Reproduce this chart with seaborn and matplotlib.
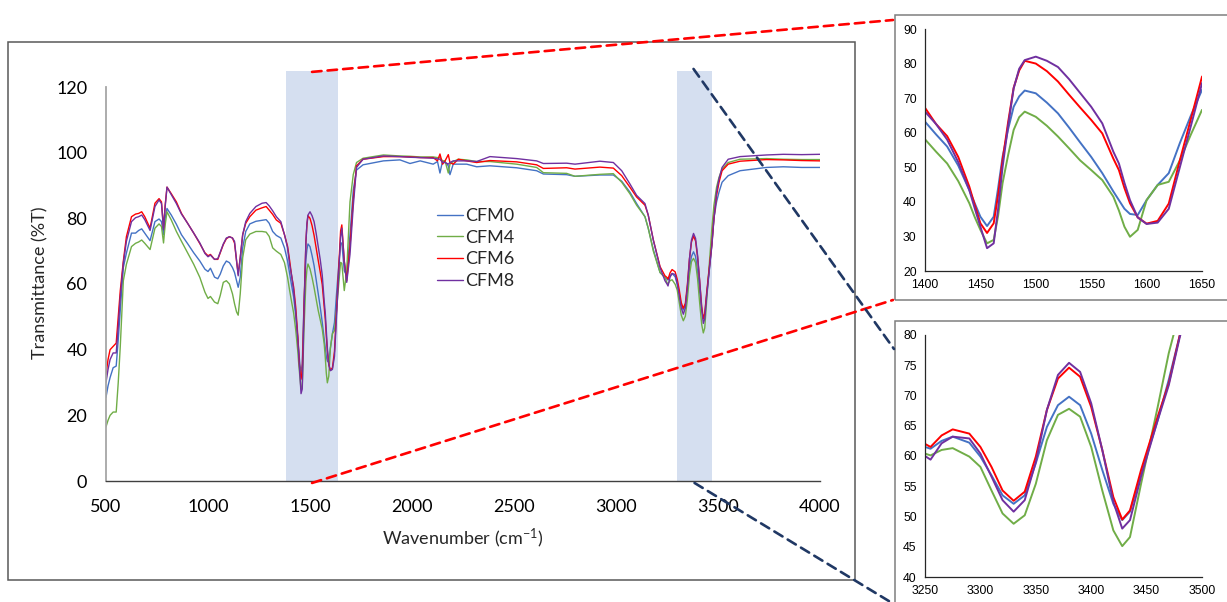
import numpy as np
import pandas as pd
import seaborn as sns
import matplotlib
matplotlib.use("Agg")
import matplotlib.pyplot as plt
from matplotlib.patches import Rectangle, ConnectionPatch

# ---------------- data ----------------
wavenumber = [
    500, 510, 520, 535, 550, 560, 570, 585, 600, 625, 645, 660, 675, 690, 716, 740, 760, 772, 782, 790,
    799, 820, 845, 870, 900, 930, 960, 985, 1000, 1012, 1032, 1048, 1060, 1075, 1090, 1105, 1120, 1130,
    1140, 1148, 1158, 1170, 1185, 1205, 1235, 1265, 1285, 1300, 1317, 1335, 1357, 1375, 1390,
    1400, 1410, 1420, 1430, 1440, 1445, 1450, 1456, 1462, 1466, 1470, 1475, 1480, 1485, 1490, 1500,
    1510, 1520, 1530, 1540, 1550, 1560, 1570, 1575, 1580, 1585, 1592, 1600, 1610, 1620, 1630, 1640,
    1650, 1656, 1668, 1680, 1696, 1712, 1728, 1760, 1860, 1941, 1990, 2040, 2104, 2125, 2137, 2150,
    2162, 2178, 2186, 2202, 2227, 2268, 2317, 2382, 2513, 2611, 2644, 2758, 2799, 2921, 2987, 3028,
    3068, 3101, 3142, 3158, 3183, 3216, 3240,
    3250, 3255, 3265, 3275, 3290, 3300, 3310, 3320, 3330, 3340, 3350, 3360, 3370, 3380, 3390, 3400,
    3410, 3420, 3428, 3435, 3445, 3460, 3470, 3480, 3493, 3505, 3520, 3550, 3608, 3738, 3820, 3910, 4000,
]

cfm0 = [  # blue
    25.5, 29, 31.5, 34.5, 35, 43, 52, 65, 69.4, 75.5, 75.5, 76.3, 76.8, 75.5, 73.2, 79, 79.8, 79, 75, 80,
    83, 81, 78.2, 75, 72.3, 69.5, 67, 64.5, 63.8, 64.8, 62.1, 61.6, 63, 65.5, 67, 66.5, 65, 63.5,
    61, 59, 62, 71, 76, 78.3, 79.1, 79.4, 79.6, 78.5, 76, 74.8, 74, 71, 67,
    63.2, 59.5, 56, 50.5, 43.4, 39.5, 35.7, 33, 35.7, 44, 53, 61, 67.5, 70.5, 72.2, 71.4,
    68.7, 65.6, 61.5, 57.2, 53, 48.3, 43, 40.5, 38, 36.5, 36.2, 40.5, 44.9, 48.3, 57, 65,
    72.4, 72.5, 64, 62.5, 75, 88.6, 94.7, 96.3, 97.5, 97.8, 96.7, 97.5, 96.5, 97.3, 93.8, 97.5,
    97.2, 96, 93.3, 96.5, 96.5, 96.5, 95.7, 96, 95.4, 94.5, 93.5, 93.3, 92.8, 93.2, 93.2, 91.3,
    88, 84.5, 80.5, 77, 70.5, 63.5, 62,
    61.5, 61.2, 62.5, 63.2, 62.2, 59.9, 56.8, 53.5, 52.1, 53.5, 58.8, 64.8, 68.4, 69.8, 68.4, 63.7,
    57.7, 52.1, 49.4, 50.8, 57.1, 65.9, 72.6, 80, 85, 88, 91, 93, 94.5, 95.5, 95.7, 95.5, 95.5,
]

cfm4 = [  # green
    16.5, 18.5, 20, 21, 21, 30, 41, 61, 66, 71.4, 72.4, 72.8, 73.4, 72.4, 70.5, 77, 78.3, 77.5, 72.5, 78,
    82, 79.5, 76, 73, 69.5, 66, 62, 57.5, 55.6, 56.2, 54.5, 54, 56.5, 60.5, 61, 60, 57, 54,
    51.5, 50.5, 57, 68, 73.5, 75.2, 76, 76, 75.8, 74.5, 71, 70, 69, 66.5, 62,
    58.1, 54.5, 51.1, 46, 39.6, 35.5, 31.9, 28, 29, 36, 45.4, 53.5, 60.8, 64.5, 66.1, 64.6,
    62, 58.9, 55.5, 52, 49.2, 46.3, 41.5, 37.5, 32.8, 29.9, 31.9, 40.5, 44.9, 45.8, 52, 59.5,
    66.6, 66.3, 58, 64, 85, 93.3, 97, 98.3, 99.3, 99, 98.9, 98.7, 98.7, 98.5, 98.5, 97.5,
    97.5, 93.8, 96.5, 97.3, 98, 97.8, 97.3, 97.3, 96.5, 95.5, 93.9, 93.7, 92.8, 93.4, 93.6, 91,
    87.5, 84, 80.5, 77, 70, 63.5, 62,
    60.4, 60.1, 61, 61.3, 59.9, 58.2, 54.3, 50.5, 48.8, 50.2, 55.4, 62.6, 66.8, 67.8, 66.5, 61.5,
    54.3, 47.7, 45.1, 46.6, 55.4, 68.1, 77, 84, 89.5, 92.5, 95, 97, 98, 98.2, 98, 97.9, 97.9,
]

cfm6 = [  # red
    32.5, 37, 40, 41, 42, 50, 58, 67, 74.4, 80.5, 81.3, 81.5, 82, 80.5, 77, 84.6, 86, 85, 77, 84,
    89.5, 87.5, 85, 81.5, 78.5, 75.5, 72.3, 69.5, 68.6, 69, 67.5, 67.5, 69.5, 72, 73.8, 74.4, 74, 72.5,
    67, 63, 68, 75, 78.5, 80.5, 82.5, 83.2, 83.6, 82.5, 81.2, 79.5, 78.5, 75, 71.5,
    67.2, 62.5, 59, 53, 44.4, 39, 33.8, 31, 33.8, 42, 52, 63, 73, 78, 80.8, 80,
    77.8, 74.8, 71, 67.3, 63.7, 59.8, 52.5, 49.2, 44, 39.6, 35.5, 33.7, 34.5, 39.5, 52, 64,
    76.2, 78, 67, 61, 71.5, 85.6, 96, 98, 98.8, 98.8, 98.7, 98.5, 98.5, 97.5, 99.6, 96.5,
    97.5, 99.4, 97, 96.5, 98, 97.5, 97, 97.6, 97.2, 96.3, 95.2, 95.4, 95, 95.6, 95.3, 93,
    89.5, 86.5, 84, 81, 73.4, 65.3, 62.5,
    62, 61.5, 63.4, 64.4, 63.7, 61.5, 58.2, 54.3, 52.6, 54.1, 59.9, 67.6, 72.8, 74.6, 73.1, 68.1,
    61, 53.2, 49.5, 51, 57.7, 66.5, 72, 80, 87, 91, 94.5, 96.5, 97.4, 97.9, 97.8, 97.6, 97.5,
]

cfm8 = [  # purple
    30, 34, 37, 39, 39, 47, 56, 66.3, 73, 79, 80.2, 80.5, 81, 79.6, 76.3, 83.6, 85.6, 84.5, 76.5, 83.5,
    89.5, 87.2, 84.5, 81.3, 78.5, 75.5, 72.5, 69.3, 68.3, 68.8, 67.5, 67.7, 69.7, 72.2, 74, 74.4, 74, 73,
    67, 62.5, 68, 75, 79, 81.5, 83.6, 84.6, 84.8, 83.8, 82.3, 80.5, 79, 75, 71,
    66.1, 62.5, 58, 51.5, 43.4, 38, 32.8, 26.6, 28, 38, 50, 62, 72.8, 78.5, 81, 82,
    80.8, 79, 75.5, 71.5, 67.5, 62.7, 54.5, 51.1, 45.5, 40.5, 35.5, 33.6, 34, 38, 50, 62,
    74.3, 77, 67, 60.5, 69, 83.6, 95.5, 98, 99, 98.8, 98.6, 98.5, 98.3, 98.1, 98, 97,
    97, 96.5, 97, 97.5, 97.5, 97.5, 97.3, 98.8, 98.2, 97.5, 96.7, 96.8, 96.5, 97.4, 97, 94.5,
    90.5, 87, 84.5, 81, 73.4, 65, 61,
    60, 59.4, 62.1, 63.2, 62.9, 60.4, 56.6, 52.7, 50.8, 52.7, 59, 67.6, 73.4, 75.4, 73.9, 68.7,
    61, 52.4, 48, 49.4, 56.6, 65.9, 71.7, 79.7, 88, 92, 95.5, 98, 98.8, 99.3, 99.5, 99.4, 99.5,
]

series_names = ["CFM0", "CFM4", "CFM6", "CFM8"]
series_colors = ["#4472C4", "#70AD47", "#FF0000", "#7030A0"]
main_yticks = [0, 20, 40, 60, 80, 100, 120]
main_xticks = [500, 1000, 1500, 2000, 2500, 3000, 3500, 4000]
band1 = (1380, 1635)
band2 = (3300, 3470)
inset1_xticks = [1400, 1450, 1500, 1550, 1600, 1650]
inset1_yticks = [20, 30, 40, 50, 60, 70, 80, 90]
inset2_xticks = [3250, 3300, 3350, 3400, 3450, 3500]
inset2_yticks = [40, 45, 50, 55, 60, 65, 70, 75, 80]

df = pd.DataFrame({"wavenumber": wavenumber, "CFM0": cfm0, "CFM4": cfm4,
                   "CFM6": cfm6, "CFM8": cfm8})
long = df.melt(id_vars="wavenumber", var_name="sample", value_name="T")

# ---------------- style ----------------
sns.set_style("white")
plt.rcParams["font.family"] = ["Lato", "DejaVu Sans"]
plt.rcParams["mathtext.fontset"] = "custom"
plt.rcParams["mathtext.rm"] = "Lato"
plt.rcParams["mathtext.default"] = "regular"

W, H = 1227, 602
fig = plt.figure(figsize=(W / 100, H / 100), dpi=100)


def fx(px):
    return px / W


def fy(py):
    return 1 - py / H


def add_axes_px(left, top, right, bottom):
    return fig.add_axes([fx(left), fy(bottom), fx(right - left), (bottom - top) / H])


palette = dict(zip(series_names, series_colors))

# frames (boxes around the charts)
fig.add_artist(Rectangle((fx(8), fy(580)), fx(855 - 8), (580 - 42) / H, transform=fig.transFigure,
                         fill=False, edgecolor="#595959", lw=1.1, zorder=0))
fig.add_artist(Rectangle((fx(895), fy(300)), fx(1240 - 895), (300 - 15) / H, transform=fig.transFigure,
                         fill=False, edgecolor="#7f7f7f", lw=1.1, zorder=0))
fig.add_artist(Rectangle((fx(895), fy(640)), fx(1240 - 895), (640 - 321) / H, transform=fig.transFigure,
                         fill=False, edgecolor="#7f7f7f", lw=1.1, zorder=0))

# ---------------- main chart ----------------
ax = add_axes_px(106, 87, 820, 481)
ax.patch.set_alpha(0)
for lo, hi in (band1, band2):
    ax.axvspan(lo, hi, ymin=0, ymax=125 / 120, color="#d5dff0", lw=0, zorder=0, clip_on=False)
sns.lineplot(data=long, x="wavenumber", y="T", hue="sample", palette=palette,
             hue_order=series_names, ax=ax, legend=False, lw=1.0, zorder=2)
ax.set_xlim(500, 4000)
ax.set_ylim(0, 120)
ax.set_xticks(main_xticks)
ax.set_yticks(main_yticks)
ax.tick_params(axis="both", length=0, labelsize=13, colors="#000000")
ax.tick_params(axis="y", pad=13.5)
ax.tick_params(axis="x", pad=13)
for s in ("top", "right"):
    ax.spines[s].set_visible(False)
ax.spines["left"].set_color("#a6a6a6")
ax.spines["left"].set_linewidth(1.3)
ax.spines["bottom"].set_color("#404040")
ax.spines["bottom"].set_linewidth(1.0)
ax.set_xlabel("Wavenumber (cm$^{-1}$)", fontsize=13)
ax.set_ylabel("Transmittance (%T)", fontsize=13)
ax.xaxis.set_label_coords(0.5, -0.115)
ax.yaxis.set_label_coords(-0.081, 0.503)
ax.grid(False)

handles = ax.get_lines()[:4]
ax.legend(handles, series_names, loc="center left", bbox_to_anchor=((437 - 106) / 714, (481 - 248.5) / 394),
          frameon=False, fontsize=13, handlelength=1.45, handletextpad=0.1, borderpad=0,
          labelspacing=0.32, borderaxespad=0)

# ---------------- insets ----------------
def style_inset(a, xticks, yticks, xlim, ylim):
    a.set_xlim(*xlim)
    a.set_ylim(*ylim)
    a.set_xticks(xticks)
    a.set_yticks(yticks)
    a.set_xlabel("")
    a.set_ylabel("")
    for s in ("top", "right"):
        a.spines[s].set_visible(False)
    for s in ("left", "bottom"):
        a.spines[s].set_color("#262626")
        a.spines[s].set_linewidth(0.9)
    a.tick_params(axis="both", length=0, labelsize=8.8, colors="#000000")
    a.tick_params(axis="y", pad=6)
    a.tick_params(axis="x", pad=5.5)
    for lab in a.get_xticklabels() + a.get_yticklabels():
        lab.set_family(["Liberation Sans", "DejaVu Sans"])
    a.grid(False)


ax1 = add_axes_px(925, 29, 1202, 271)
sns.lineplot(data=long, x="wavenumber", y="T", hue="sample", palette=palette,
             hue_order=series_names, ax=ax1, legend=False, lw=1.4)
style_inset(ax1, inset1_xticks, inset1_yticks, (1400, 1650), (20, 90))

ax2 = add_axes_px(925, 335, 1202, 577)
sns.lineplot(data=long, x="wavenumber", y="T", hue="sample", palette=palette,
             hue_order=series_names, ax=ax2, legend=False, lw=1.4)
style_inset(ax2, inset2_xticks, inset2_yticks, (3250, 3500), (40, 80))

# ---------------- connector lines ----------------
def connector(xyA, xyB_px, color):
    cp = ConnectionPatch(xyA=xyA, coordsA=ax.transData,
                         xyB=(fx(xyB_px[0]), fy(xyB_px[1])), coordsB=fig.transFigure,
                         color=color, lw=1.9, linestyle=(0, (3.6, 2.3)), zorder=6)
    cp.set_annotation_clip(False)
    cp.set_clip_on(False)
    fig.add_artist(cp)


connector((1510, 124.6), (893, 20), "#FF0000")
connector((1510, -0.6), (893, 300), "#FF0000")
connector((3380, 125.5), (894, 349), "#203864")
connector((3385, -0.6), (925, 623), "#203864")

fig.savefig("out.png", dpi=100)
